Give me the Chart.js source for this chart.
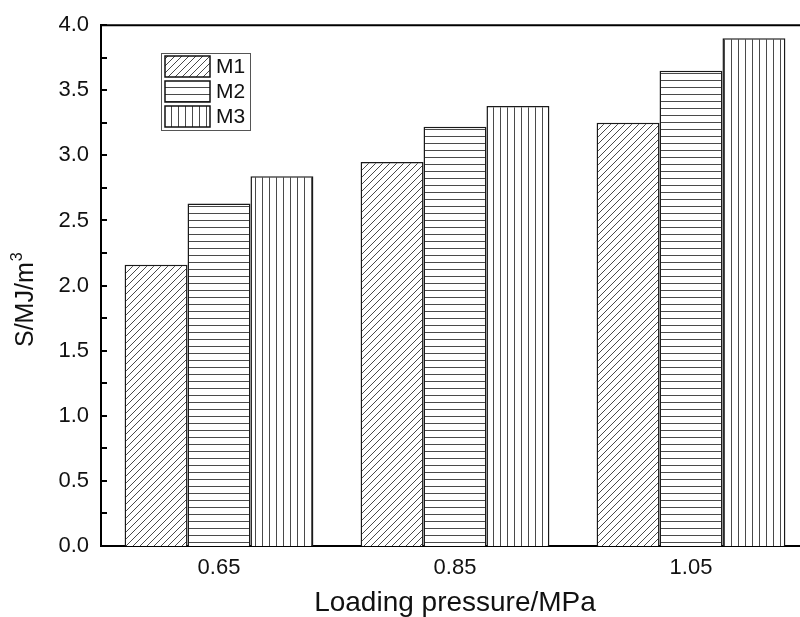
<!DOCTYPE html>
<html>
<head>
<meta charset="utf-8">
<script src="https://cdn.jsdelivr.net/npm/chart.js@4.4.1/dist/chart.umd.min.js"></script>
<style>
  html, body { margin: 0; padding: 0; background: #fff; overflow: hidden; }
  canvas { display: block; }
</style>
</head>
<body>
<!-- plot frame runs a little past the right edge of the window, as in the original -->
<canvas id="myChart" width="809" height="617"></canvas>
<script>
// data
const categories = ['0.65', '0.85', '1.05'];
const seriesNames = ['M1', 'M2', 'M3'];
const m1 = [2.16, 2.95, 3.25];
const m2 = [2.63, 3.22, 3.65];
const m3 = [2.84, 3.38, 3.90];
const yMin = 0, yMax = 4, yStep = 0.25;

const FONT = '"Liberation Sans", Arial, sans-serif';

// hatch patterns: diagonal, horizontal, vertical
make_pattern = (kind) => {
    const s = 7;
    const c = document.createElement('canvas');
    c.width = s; c.height = s;
    const g = c.getContext('2d');
    g.fillStyle = '#fff';
    g.fillRect(0, 0, s, s);
    g.strokeStyle = '#4a4a4a';
    g.lineWidth = 1;
    g.beginPath();
    if (kind == 'diag') {
        g.moveTo(-1, s + 1); g.lineTo(s + 1, -1);
        g.moveTo(-1, 1); g.lineTo(1, -1);
        g.moveTo(s - 1, s + 1); g.lineTo(s + 1, s - 1);
    } else if (kind == 'horiz') {
        g.moveTo(0, 3.5); g.lineTo(s, 3.5);
    } else {
        g.moveTo(3.5, 0); g.lineTo(3.5, s);
    }
    g.stroke();
    return g.createPattern(c, 'repeat');
}

const fills = [make_pattern('diag'), make_pattern('horiz'), make_pattern('vert')];
const values = [m1, m2, m3];

// inward ticks, top frame line, legend box, y title
const decor = {
    id: 'decor',
    afterDatasetsDraw(chart) {
        const ctx = chart.ctx;
        const area = chart.chartArea;
        const y = chart.scales.y;
        ctx.save();
        ctx.strokeStyle = '#000';
        ctx.lineWidth = 2;
        y.ticks.forEach(t => {
            const py = Math.round(y.getPixelForValue(t.value));
            ctx.beginPath();
            ctx.moveTo(area.left, py);
            ctx.lineTo(area.left + 6, py);
            ctx.stroke();
        });
        ctx.beginPath();
        ctx.moveTo(area.left, area.top);
        ctx.lineTo(area.right, area.top);
        ctx.stroke();

        // legend
        ctx.lineWidth = 1;
        ctx.strokeStyle = '#555';
        ctx.strokeRect(161.5, 53.5, 89, 77);
        chart.data.datasets.forEach((ds, i) => {
            const top = 56 + i * 25;
            ctx.fillStyle = ds.backgroundColor;
            ctx.fillRect(165, top, 45, 21);
            ctx.strokeStyle = '#111';
            ctx.lineWidth = 1.5;
            ctx.strokeRect(165, top, 45, 21);
            ctx.fillStyle = '#111';
            ctx.font = '21px ' + FONT;
            ctx.textBaseline = 'middle';
            ctx.textAlign = 'left';
            ctx.fillText(ds.label, 216, top + 11);
        });

        // y axis title with superscript
        ctx.translate(33, 347);
        ctx.rotate(-Math.PI / 2);
        ctx.fillStyle = '#111';
        ctx.textBaseline = 'alphabetic';
        ctx.font = '25px ' + FONT;
        ctx.fillText('S/MJ/m', 0, 0);
        const w = ctx.measureText('S/MJ/m').width;
        ctx.font = '16px ' + FONT;
        ctx.fillText('3', w + 1, -11);
        ctx.restore();
    }
};

new Chart('myChart', {
    type: 'bar',
    data: {
        labels: categories,
        datasets: seriesNames.map((name, i) => ({
            label: name,
            data: values[i],
            backgroundColor: fills[i],
            borderColor: '#1a1a1a',
            borderWidth: 1.5,
            categoryPercentage: 0.8,
            barPercentage: 1
        }))
    },
    options: {
        responsive: false,
        animation: false,
        devicePixelRatio: 1,
        layout: { padding: { top: 25, right: 0, left: 0, bottom: 0 } },
        plugins: { legend: { display: false }, tooltip: { enabled: false } },
        scales: {
            x: {
                grid: { display: false, drawTicks: false },
                border: { display: true, color: '#000', width: 2 },
                ticks: { color: '#111', font: { family: FONT, size: 22 }, padding: 9 },
                title: {
                    display: true,
                    text: 'Loading pressure/MPa',
                    color: '#111',
                    font: { family: FONT, size: 28, lineHeight: 1 },
                    padding: 0
                },
                afterFit(scale) { scale.height = 71; }
            },
            y: {
                min: yMin,
                max: yMax,
                grid: { display: false, drawTicks: false },
                border: { display: true, color: '#000', width: 2 },
                ticks: {
                    stepSize: yStep,
                    autoSkip: false,
                    color: '#111',
                    padding: 12,
                    font: { family: FONT, size: 22 },
                    callback: v => (Math.abs(v * 2 - Math.round(v * 2)) < 1e-6) ? v.toFixed(1) : ''
                },
                afterFit(scale) { scale.width = 101; }
            }
        }
    },
    plugins: [decor]
});
</script>
</body>
</html>
